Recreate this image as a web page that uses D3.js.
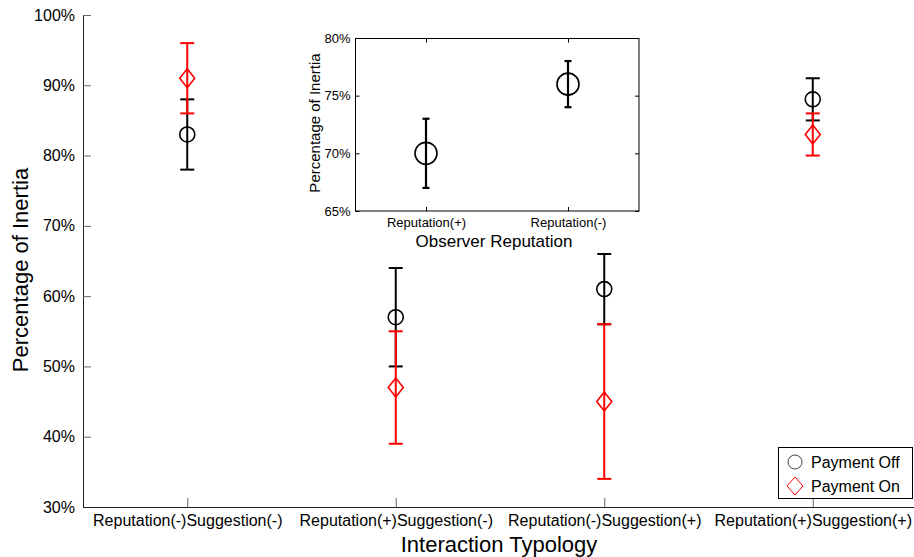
<!DOCTYPE html>
<html>
<head>
<meta charset="utf-8">
<script src="https://cdn.jsdelivr.net/npm/d3@7"></script>
<style>
  body { margin: 0; background: #fff; }
  svg { display: block; font-family: "Liberation Sans", Arial, sans-serif; }
</style>
</head>
<body>
<div id="chart"></div>
<script>
// Main chart data
const categories = ["Reputation(-)Suggestion(-)", "Reputation(+)Suggestion(-)", "Reputation(-)Suggestion(+)", "Reputation(+)Suggestion(+)"];
const offMean = [83, 57, 61, 88];
const offLow = [78, 50, 56, 85];
const offHigh = [88, 64, 66, 91];
const onMean = [91, 47, 45, 83];
const onLow = [86, 39, 34, 80];
const onHigh = [96, 55, 56, 86];
const yTicks = [30, 40, 50, 60, 70, 80, 90, 100];

// Inset data
const insetCategories = ["Reputation(+)", "Reputation(-)"];
const insetMean = [70, 76];
const insetLow = [67, 74];
const insetHigh = [73, 78];
const insetTicks = [65, 70, 75, 80];

const W = 914, H = 557;
const RED = "#ff0000";

const svg = d3.select("#chart").append("svg")
    .attr("width", W)
    .attr("height", H);

// Main scales
const x = d3.scaleLinear().domain([0.5, 4.5]).range([83, 917]);
const y = d3.scaleLinear().domain([30, 100]).range([507, 15]);

// Axes
const yAxis = d3.axisLeft(y).tickValues(yTicks).tickFormat(d => d + "%").tickSizeInner(-8).tickSizeOuter(0).tickPadding(6);
const xAxis = d3.axisBottom(x).tickValues([1, 2, 3, 4]).tickFormat((d, i) => categories[i]).tickSizeInner(-9).tickSizeOuter(0).tickPadding(8);

const gy = svg.append("g").attr("transform", "translate(83,0)").call(yAxis);
gy.selectAll("text").attr("font-size", 16).attr("fill", "#000").attr("dx", "-2");
gy.select(".domain").attr("stroke", "#222");
gy.selectAll(".tick line").attr("stroke", "#666");

const gx = svg.append("g").attr("transform", "translate(0,507)").call(xAxis);
gx.selectAll("text").attr("font-size", 16).attr("fill", "#000");
gx.select(".domain").attr("stroke", "#222");
gx.selectAll(".tick line").attr("stroke", "#666");

// Axis titles
svg.append("text")
    .attr("x", 499).attr("y", 552)
    .attr("text-anchor", "middle")
    .attr("font-size", 22)
    .text("Interaction Typology");

svg.append("text")
    .attr("transform", "translate(28,270) rotate(-90)")
    .attr("text-anchor", "middle")
    .attr("font-size", 22)
    .text("Percentage of Inertia");

// Error bars
const capW = 7;
const drawSeries = (g, xs, mean, low, high, color, shape, cap, width) => {
    const idx = d3.range(mean.length);
    g.selectAll(null).data(idx).enter().append("line")
        .attr("x1", i => xs(i + 1)).attr("x2", i => xs(i + 1))
        .attr("y1", i => shape.y(low[i])).attr("y2", i => shape.y(high[i]))
        .attr("stroke", color).attr("stroke-width", width);
    [low, high].forEach(arr => {
        g.selectAll(null).data(idx).enter().append("line")
            .attr("x1", i => xs(i + 1) - cap).attr("x2", i => xs(i + 1) + cap)
            .attr("y1", i => shape.y(arr[i])).attr("y2", i => shape.y(arr[i]))
            .attr("stroke", color).attr("stroke-width", width);
    });
    idx.forEach(i => shape.draw(g, xs(i + 1), shape.y(mean[i]), color));
};

const circleShape = (yScale, r) => ({
    y: yScale,
    draw: (g, cx, cy, color) => g.append("circle")
        .attr("cx", cx).attr("cy", cy).attr("r", r)
        .attr("fill", "none").attr("stroke", color).attr("stroke-width", 1.6)
});
const diamondShape = (yScale, hw, hh) => ({
    y: yScale,
    draw: (g, cx, cy, color) => g.append("path")
        .attr("d", `M${cx},${cy - hh}L${cx + hw},${cy}L${cx},${cy + hh}L${cx - hw},${cy}Z`)
        .attr("fill", "none").attr("stroke", color).attr("stroke-width", 1.6)
});

const marks = svg.append("g");
drawSeries(marks, x, offMean, offLow, offHigh, "#000", circleShape(y, 7.5), capW, 2);
drawSeries(marks, x, onMean, onLow, onHigh, RED, diamondShape(y, 7.5, 9.5), capW, 2);

// Legend
const leg = svg.append("g");
leg.append("rect").attr("x", 778.5).attr("y", 447.5).attr("width", 134).attr("height", 51)
    .attr("fill", "#fff").attr("stroke", "#000");
leg.append("circle").attr("cx", 795).attr("cy", 462).attr("r", 7)
    .attr("fill", "none").attr("stroke", "#444").attr("stroke-width", 1);
leg.append("path").attr("d", "M795,477L803,486L795,495L787,486Z")
    .attr("fill", "none").attr("stroke", RED).attr("stroke-width", 1);
leg.append("text").attr("x", 811).attr("y", 468).attr("font-size", 16).text("Payment Off");
leg.append("text").attr("x", 811).attr("y", 492).attr("font-size", 16).text("Payment On");

// Inset
const ix = d3.scaleLinear().domain([0.5, 2.5]).range([355, 639]);
const iy = d3.scaleLinear().domain([65, 80]).range([211, 38]);

const inset = svg.append("g");
inset.append("rect").attr("x", 355.5).attr("y", 38.5).attr("width", 283.5).attr("height", 172.5)
    .attr("fill", "#fff").attr("stroke", "#000");

const iyAxis = d3.axisLeft(iy).tickValues(insetTicks).tickFormat(d => d + "%").tickSizeInner(-4).tickSizeOuter(0).tickPadding(5);
const giy = inset.append("g").attr("transform", "translate(355.5,0)").call(iyAxis);
giy.select(".domain").remove();
giy.selectAll("text").attr("font-size", 13).attr("fill", "#000");

const iyAxisR = d3.axisRight(iy).tickValues(insetTicks).tickFormat("").tickSizeInner(-4).tickSizeOuter(0);
const giyr = inset.append("g").attr("transform", "translate(639,0)").call(iyAxisR);
giyr.select(".domain").remove();

const ixAxis = d3.axisBottom(ix).tickValues([1, 2]).tickFormat((d, i) => insetCategories[i]).tickSizeInner(-4).tickSizeOuter(0).tickPadding(7);
const gix = inset.append("g").attr("transform", "translate(0,211)").call(ixAxis);
gix.select(".domain").remove();
gix.selectAll("text").attr("font-size", 13).attr("fill", "#000");

const ixAxisT = d3.axisTop(ix).tickValues([1, 2]).tickFormat("").tickSizeInner(-4).tickSizeOuter(0);
const gixt = inset.append("g").attr("transform", "translate(0,38.5)").call(ixAxisT);
gixt.select(".domain").remove();

inset.append("text")
    .attr("x", 494).attr("y", 247)
    .attr("text-anchor", "middle")
    .attr("font-size", 17)
    .text("Observer Reputation");

inset.append("text")
    .attr("transform", "translate(320,123) rotate(-90)")
    .attr("text-anchor", "middle")
    .attr("font-size", 15)
    .text("Percentage of Inertia");

drawSeries(inset, ix, insetMean, insetLow, insetHigh, "#000", circleShape(iy, 11), 3.5, 2.2);
</script>
</body>
</html>
